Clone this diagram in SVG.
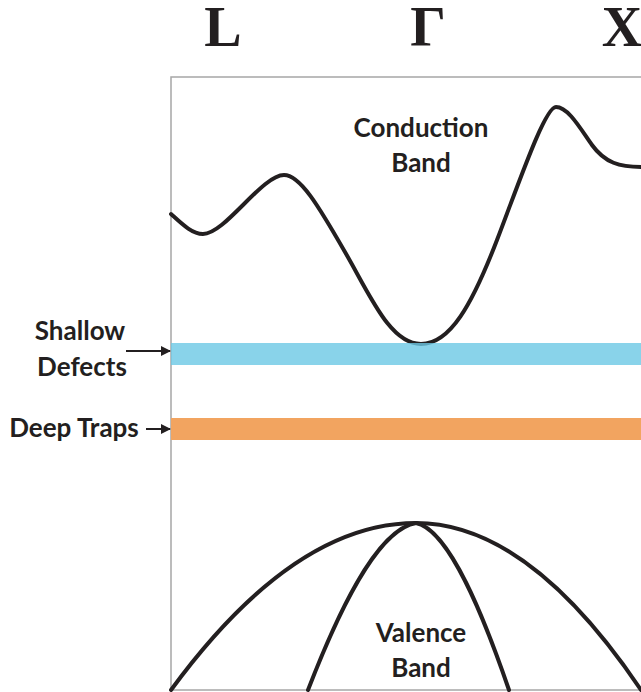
<svg xmlns="http://www.w3.org/2000/svg" width="641" height="692" viewBox="0 0 641 692">
<style>
.sym{font-family:"Liberation Serif","Times New Roman",serif;font-weight:bold;font-size:56px;fill:#231f20;text-anchor:middle}
.lbl{font-family:Lato,"Open Sans",sans-serif;font-weight:bold;font-size:26px;fill:#231f20;text-anchor:middle}
.band{fill:none;stroke:#231f20;stroke-width:4;stroke-linecap:round;stroke-linejoin:round}
.frame{fill:none;stroke:#a7a7a7;stroke-width:1.5}
.arr{stroke:#231f20;stroke-width:2;fill:none}
</style>
<defs>
<marker id="ah" markerWidth="10" markerHeight="10" refX="9" refY="5" orient="auto" markerUnits="userSpaceOnUse">
<path d="M0,0 L10,5 L0,10 Z" fill="#231f20"/>
</marker>
</defs>
<rect width="641" height="692" fill="#fff"/>
<g id="axes">
<path class="frame" d="M641,77 H171 V690 H641"/>
<text class="sym" x="223" y="46">L</text>
<text class="sym" x="428" y="46">Γ</text>
<text class="sym" x="622" y="46">X</text>
</g>
<g id="conduction-band">
<path class="band" d="M171,214 C182,224 192,234 203,234 C225,234 262,175 284,175 C300,175 318,205 345,252 C370,295 390,344 421,344 C450,344 472,305 497,240 C520,180 545,107 556,107 C568,107 580,128 592,145 C605,163 620,167 641,167"/>
<text class="lbl" x="421" y="137">Conduction</text>
<text class="lbl" x="421" y="172">Band</text>
</g>
<g id="shallow-defects">
<rect x="171" y="343" width="470" height="22" fill="#6bc8e5" fill-opacity="0.8"/>
<text class="lbl" x="80" y="340">Shallow</text>
<text class="lbl" x="82" y="376">Defects</text>
</g>
<g id="deep-traps">
<rect x="171" y="418" width="470" height="22" fill="#f2a460"/>
<text class="lbl" x="74" y="437">Deep Traps</text>
</g>
<g id="valence-band">
<path class="band" d="M171,690 Q293.5,523 416,523 Q528.5,523 641,690"/>
<path class="band" d="M308,690 C335,620 375,530 416,523 C450,530 485,620 509,690"/>
<text class="lbl" x="421" y="642">Valence</text>
<text class="lbl" x="421" y="677">Band</text>
</g>
<g id="connectors">
<line class="arr" x1="126" y1="351" x2="170" y2="351" marker-end="url(#ah)"/>
<line class="arr" x1="146" y1="429" x2="170" y2="429" marker-end="url(#ah)"/>
</g>
</svg>
